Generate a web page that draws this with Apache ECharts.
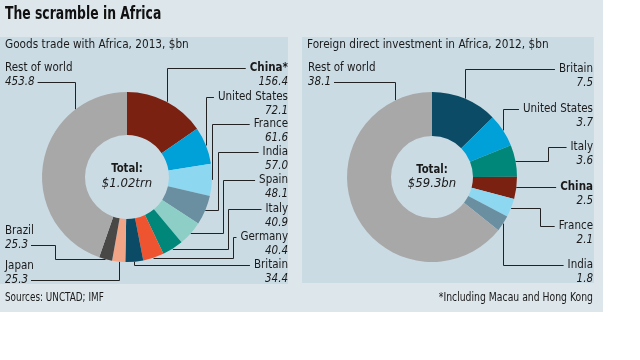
<!DOCTYPE html>
<html><head><meta charset="utf-8">
<script src="https://cdn.jsdelivr.net/npm/echarts@6/dist/echarts.min.js"></script>
<style>html,body{margin:0;padding:0;background:#fff}#c{width:640px;height:360px}</style>
</head><body><div id="c"></div>
<script>
// ---- data ----
const tradeNames = ['China*', 'United States', 'France', 'India', 'Spain', 'Italy', 'Germany', 'Britain', 'Japan', 'Brazil', 'Rest of world'];
const tradeValues = [156.4, 72.1, 61.6, 57.0, 48.1, 40.9, 40.4, 34.4, 25.3, 25.3, 453.8];
const tradeTotalLabel = '$1.02trn';
const fdiNames = ['Britain', 'United States', 'Italy', 'China', 'France', 'India', 'Rest of world'];
const fdiValues = [7.5, 3.7, 3.6, 2.5, 2.1, 1.8, 38.1];
const fdiTotalLabel = '$59.3bn';
const boldNames = ['China*', 'China'];

// ---- style ----
const tradeColors = ['#7b2111', '#00a1d8', '#8dd7f1', '#698fa0', '#8dcfc6', '#00877a', '#ef5430', '#0b4b65', '#f2a487', '#4a4846', '#a8a8a8'];
const fdiColors = ['#0b4b65', '#00a1d8', '#00877a', '#7b2111', '#8dd7f1', '#698fa0', '#a8a8a8'];
const FONT = '"Liberation Sans Narrow","DejaVu Sans Condensed","Arial Narrow",sans-serif';
const LS = 11.5, LH = 14;
const TXT = '#1a1a1a';

const tradeLayout = {center: [127, 177], r: 85, ri: 42, xl: 5, xr: 288,
  labels: [{side: 'r', y: 68}, {side: 'r', y: 97}, {side: 'r', y: 124}, {side: 'r', y: 152, elbow: 218},
    {side: 'r', y: 180, elbow: 223}, {side: 'r', y: 209, elbow: 228}, {side: 'r', y: 237, elbow: 233},
    {side: 'r', y: 265}, {side: 'l', y: 266}, {side: 'l', y: 231, elbow: 55}, {side: 'l', y: 68, elbow: 75, hit: true}]};
const fdiLayout = {center: [432, 177], r: 85, ri: 41, xl: 308, xr: 593,
  labels: [{side: 'r', y: 69}, {side: 'r', y: 109}, {side: 'r', y: 147, elbow: 548}, {side: 'r', y: 187},
    {side: 'r', y: 226, elbow: 540}, {side: 'r', y: 265}, {side: 'l', y: 68, elbow: 395, hit: true}]};

const mctx = document.createElement('canvas').getContext('2d');
function tw(text, weight, style) {
  mctx.font = (style || 'normal') + ' ' + (weight || 'normal') + ' ' + LS + 'px ' + FONT;
  return mctx.measureText(text).width;
}
const snap = v => Math.round(v) + 0.5;

function makeSeries(names, values, colors, L) {
  const total = values.reduce((a, b) => a + b, 0);
  const cum = []; let s = 0; values.forEach(v => { cum.push(s); s += v; });
  const rich = {};
  ['r', 'l'].forEach(side => {
    const al = side === 'r' ? 'right' : 'left';
    rich['n' + side] = {fontSize: LS, lineHeight: LH, fontFamily: FONT, color: TXT, align: al};
    rich['b' + side] = {fontSize: LS, lineHeight: LH, fontFamily: FONT, color: TXT, fontWeight: 'bold', align: al};
    rich['v' + side] = {fontSize: LS, lineHeight: LH, fontFamily: FONT, color: TXT, fontStyle: 'italic', align: al};
  });
  return {
    type: 'pie', center: L.center, radius: [L.ri, L.r], startAngle: 90, clockwise: true,
    avoidLabelOverlap: false, silent: true, animation: false, minShowLabelAngle: 0,
    itemStyle: {borderWidth: 0},
    data: names.map((n, i) => ({name: n, value: values[i], itemStyle: {color: colors[i]}})),
    label: {
      show: true, position: 'outside', rich: rich,
      formatter: p => {
        const side = L.labels[p.dataIndex].side;
        const nb = boldNames.indexOf(p.name) >= 0 ? 'b' : 'n';
        return '{' + nb + side + '|' + p.name + '}\n{v' + side + '|' + p.value.toFixed(1) + '}';
      }
    },
    labelLine: {show: true, smooth: false, lineStyle: {color: '#222', width: 1}},
    labelLayout: params => {
      const i = params.dataIndex, c = L.labels[i];
      const a = (cum[i] + values[i] / 2) / total * 2 * Math.PI;
      const cx = L.center[0], cy = L.center[1], r = L.r;
      let px = cx + r * Math.sin(a), py = cy - r * Math.cos(a);
      let ly, ax;
      if (c.side === 'r') {
        ly = c.y;
        ax = L.xr - tw(names[i], boldNames.indexOf(names[i]) >= 0 ? 'bold' : 'normal') - 4;
      } else {
        ly = c.y + LH;
        ax = L.xl + tw(values[i].toFixed(1), 'normal', 'italic') + 3;
      }
      ly = snap(ly);
      let pts;
      if (c.hit) {
        const xv = snap(c.elbow);
        const yv = cy - Math.sqrt(r * r - (xv - cx) * (xv - cx));
        pts = [[xv, yv], [xv, ly], [ax, ly]];
      } else if (c.elbow != null) {
        py = snap(py);
        const xv = snap(c.elbow);
        pts = [[px, py], [xv, py], [xv, ly], [ax, ly]];
      } else {
        px = snap(px);
        pts = [[px, py], [px, ly], [ax, ly]];
      }
      return {x: c.side === 'r' ? L.xr : L.xl, y: c.y - LH / 2, align: c.side === 'r' ? 'right' : 'left',
        verticalAlign: 'top', labelLinePoints: pts};
    }
  };
}

function txt(x, y, text, opt, sx) {
  return {type: 'text', x: x, y: y, z: 100, silent: true, scaleX: sx || 1,
    style: Object.assign({text: text, fontFamily: FONT, fontSize: 13, fill: TXT, align: 'left', verticalAlign: 'middle'}, opt || {})};
}

const chart = echarts.init(document.getElementById('c'), null, {renderer: 'canvas', width: 640, height: 360});
chart.setOption({
  backgroundColor: '#ffffff',
  animation: false,
  graphic: [
    {type: 'rect', z: -10, silent: true, shape: {x: 0, y: 0, width: 603, height: 312}, style: {fill: '#dde6eb'}},
    {type: 'rect', z: -9, silent: true, shape: {x: 0, y: 37, width: 288, height: 247}, style: {fill: '#cbdbe4'}},
    {type: 'rect', z: -9, silent: true, shape: {x: 302, y: 37, width: 292, height: 246}, style: {fill: '#cbdbe4'}},
    txt(5, 15, 'The scramble in Africa', {fontSize: 17, fontWeight: 'bold', fill: '#111'}, 0.81),
    txt(5, 45, 'Goods trade with Africa, 2013, $bn', {fontSize: 13}, 0.9),
    txt(307, 45, 'Foreign direct investment in Africa, 2012, $bn', {fontSize: 13}, 0.9),
    txt(127, 169, 'Total:', {fontWeight: 'bold', align: 'center', fontSize: 12.5}, 0.9),
    txt(127, 184, tradeTotalLabel, {fontStyle: 'italic', align: 'center', fontSize: 13}),
    txt(432, 170, 'Total:', {fontWeight: 'bold', align: 'center', fontSize: 12.5}, 0.9),
    txt(432, 184, fdiTotalLabel, {fontStyle: 'italic', align: 'center', fontSize: 13}),
    txt(5, 298, 'Sources: UNCTAD; IMF', {fontSize: 12}, 0.82),
    txt(593, 298, '*Including Macau and Hong Kong', {fontSize: 12, align: 'right'}, 0.86)
  ],
  series: [
    makeSeries(tradeNames, tradeValues, tradeColors, tradeLayout),
    makeSeries(fdiNames, fdiValues, fdiColors, fdiLayout)
  ]
});
</script>
</body></html>
